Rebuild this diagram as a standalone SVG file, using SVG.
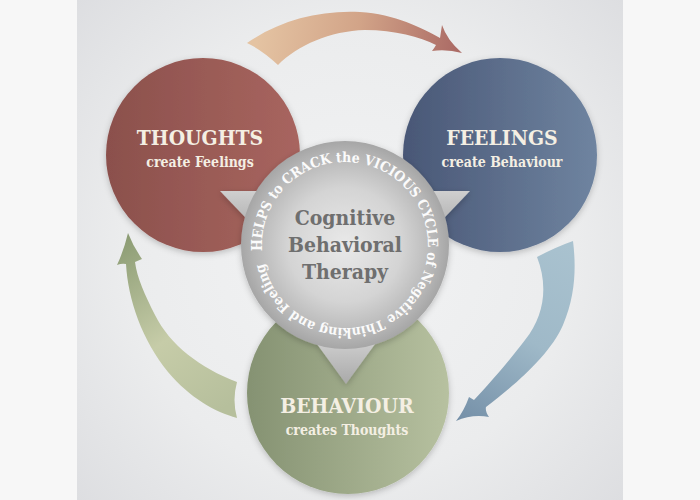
<svg xmlns="http://www.w3.org/2000/svg" width="700" height="500" viewBox="0 0 700 500">
<defs>
<radialGradient id="bg" cx="350" cy="250" r="380" gradientUnits="userSpaceOnUse">
<stop offset="0" stop-color="#f2f3f4"/><stop offset="0.6" stop-color="#ebeced"/><stop offset="1" stop-color="#dcdde0"/>
</radialGradient>
<linearGradient id="gRed" x1="0" y1="0" x2="1" y2="0"><stop offset="0" stop-color="#8b504c"/><stop offset="1" stop-color="#a8655f"/></linearGradient>
<linearGradient id="gBlue" x1="0" y1="0" x2="1" y2="0"><stop offset="0" stop-color="#495776"/><stop offset="1" stop-color="#6f84a0"/></linearGradient>
<linearGradient id="gGreen" x1="0" y1="0" x2="1" y2="0"><stop offset="0" stop-color="#859272"/><stop offset="1" stop-color="#b7c1a0"/></linearGradient>
<radialGradient id="gGray" cx="0.5" cy="0.5" r="0.5"><stop offset="0" stop-color="#e9e9e9"/><stop offset="0.55" stop-color="#d4d4d4"/><stop offset="0.88" stop-color="#b5b5b5"/><stop offset="1" stop-color="#a6a6a6"/></radialGradient>
<linearGradient id="gPtr" x1="0" y1="0" x2="0" y2="1"><stop offset="0" stop-color="#cfcfcf"/><stop offset="1" stop-color="#a9a9a9"/></linearGradient>
<linearGradient id="aTop" x1="260" y1="20" x2="455" y2="50" gradientUnits="userSpaceOnUse"><stop offset="0" stop-color="#e4c3a2"/><stop offset="0.5" stop-color="#d2a488"/><stop offset="1" stop-color="#ac6c66"/></linearGradient>
<linearGradient id="aRight" x1="560" y1="240" x2="460" y2="420" gradientUnits="userSpaceOnUse"><stop offset="0" stop-color="#a9c2cf"/><stop offset="0.5" stop-color="#9fb9c8"/><stop offset="1" stop-color="#7590a8"/></linearGradient>
<linearGradient id="aLeft" x1="237" y1="400" x2="128" y2="235" gradientUnits="userSpaceOnUse"><stop offset="0" stop-color="#b6bf9c"/><stop offset="0.45" stop-color="#c6cca8"/><stop offset="1" stop-color="#8c9c74"/></linearGradient>
<filter id="sh" x="-20%" y="-20%" width="140%" height="140%"><feDropShadow dx="0" dy="2" stdDeviation="3" flood-color="#000" flood-opacity="0.22"/></filter>
<path id="ring" d="M 262.2,250.8 A 83,83 0 0 1 427.8,239.2 A 83,83 0 0 1 262.2,250.8"/>
</defs>
<style>
.title{font-family:"DejaVu Serif Condensed","DejaVu Serif",serif;font-weight:bold;font-size:21px;fill:#f4efe3;text-anchor:middle}
.sub{font-family:"DejaVu Serif Condensed","DejaVu Serif",serif;font-weight:bold;font-size:14px;fill:#f4efe3;text-anchor:middle}
.cbt{font-family:"DejaVu Serif Condensed","DejaVu Serif",serif;font-weight:bold;font-size:21px;fill:#6f6f6f;text-anchor:middle}
.ring{font-family:"DejaVu Serif Condensed","DejaVu Serif",serif;font-weight:bold;font-size:14px;fill:#fbfbfb}
</style>
<rect x="0" y="0" width="700" height="500" fill="#f7f7f7"/>
<rect x="77" y="0" width="546" height="500" fill="url(#bg)"/>
<g id="connectors">
<path id="arrow-thoughts-feelings" fill="url(#aTop)" d="M 247,43 C 280,20 320,10 360,12 C 395,14 422,28 440,38 L 442,25 Q 447,40 462,53 Q 447,49 432,51 Q 435,47 436,45 C 420,37 395,30 365,30 C 330,31 298,45 278,65 Q 262,50 247,43 Z"/>
<path id="arrow-feelings-behaviour" fill="url(#aRight)" d="M 537,257 C 548,285 545,315 525,340 C 510,360 490,383 474,400 L 469,397 Q 464,411 456,421 Q 472,414 489,417 Q 485,411 486,407 C 515,385 550,355 563,325 C 576,295 576,265 573,241 Q 556,247 537,257 Z"/>
<path id="arrow-behaviour-thoughts" fill="url(#aLeft)" d="M 237,382 C 200,368 170,345 155,315 C 145,295 137,278 135,262 L 142,259 Q 133,246 128,233 Q 124,250 117,265 Q 122,263 126,264 C 128,300 142,340 168,372 C 190,398 215,412 237,418 Q 232,400 237,382 Z"/>
</g>
<g id="thoughts">
<circle cx="203" cy="155" r="97" fill="url(#gRed)" filter="url(#sh)"/>
<text class="title" x="200" y="145">THOUGHTS</text>
<text class="sub" x="200" y="167">create Feelings</text>
</g>
<g id="feelings">
<circle cx="500" cy="155" r="97" fill="url(#gBlue)" filter="url(#sh)"/>
<text class="title" x="502" y="145">FEELINGS</text>
<text class="sub" x="502" y="167">create Behaviour</text>
</g>
<g id="behaviour">
<circle cx="348" cy="393" r="101" fill="url(#gGreen)" filter="url(#sh)"/>
<text class="title" x="347" y="413">BEHAVIOUR</text>
<text class="sub" x="347" y="435">creates Thoughts</text>
</g>
<g id="cbt">
<g filter="url(#sh)">
<polygon points="220,191 280,191 262,235" fill="url(#gPtr)"/>
<polygon points="470,191 410,191 428,235" fill="url(#gPtr)"/>
<polygon points="314,340 378,340 346,384" fill="url(#gPtr)"/>
<circle cx="345" cy="245" r="104" fill="url(#gGray)"/>
</g>
<text class="cbt" x="345" y="225">Cognitive</text>
<text class="cbt" x="345" y="252">Behavioral</text>
<text class="cbt" x="345" y="279">Therapy</text>
<text class="ring"><textPath href="#ring" textLength="508" lengthAdjust="spacing">HELPS to CRACK the VICIOUS CYCLE of Negative Thinking and Feeling</textPath></text>
</g>
</svg>
